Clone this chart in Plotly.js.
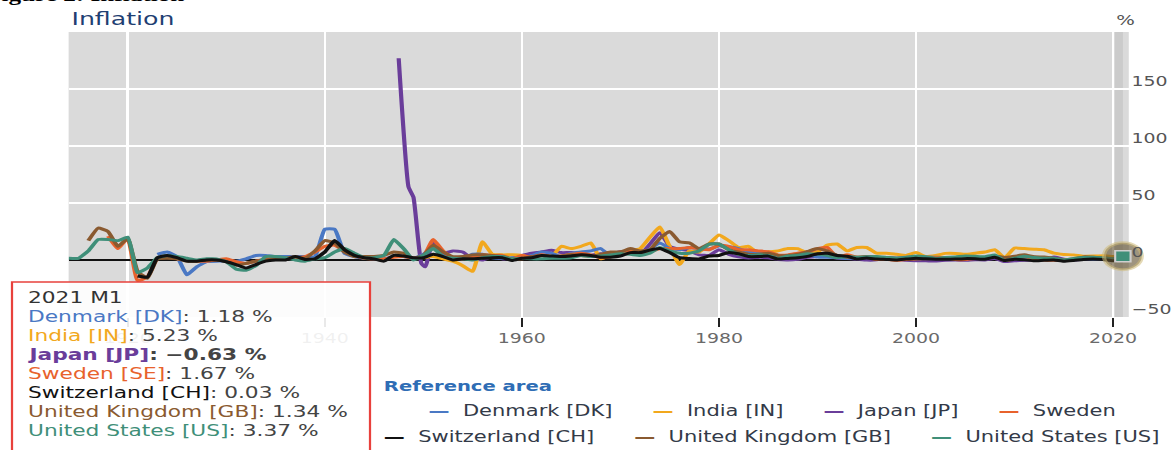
<!DOCTYPE html>
<html><head><meta charset="utf-8">
<script src="https://cdn.plot.ly/plotly-3.0.1.min.js"></script>
<style>
html,body{margin:0;padding:0;background:#fff;overflow:hidden;}
#wrap{width:1175px;height:450px;overflow:hidden;position:relative;}
#chart{width:839px;height:450px;transform:scale(1.400477,1);transform-origin:0 0;}
</style></head><body><div id="wrap"><div id="chart"></div></div>
<script>
// ---------------- data (annual inflation, %) ----------------
const seriesNames = ['Denmark [DK]','India [IN]','Japan [JP]','Sweden [SE]','Switzerland [CH]','United Kingdom [GB]','United States [US]'];
const legendLabels = ['Denmark [DK]','India [IN]','Japan [JP]','Sweden','Switzerland [CH]','United Kingdom [GB]','United States [US]'];
const seriesColors = ['#4a78c4','#f2a81d','#6a3d9a','#e8622c','#111111','#8a5a30','#3f8f79'];
const tooltipPeriod = '2021 M1';

const denmarkStart = 1923;
const denmarkValues = [5,7,3,-13,-6,-1.5,-1,-1,-1,1, 4,4,3,3,3,3,3,27,27,6, 3,1.5,1,1,3,3,1.5,5,12,5,
  1,1,5,5,2,1.5,2,1.5,4,7, 6,3,6,7,8,10,3.5,6.5,6,6.5, 9.5,15,10,9,11,10,9.6,12.3,11.7,10,
  6.9,6.3,4.7,3.6,4,4.6,4.8,2.6,2.4,2.1, 1.3,2,2.1,2.1,2.2,1.8,2.5,2.9,2.4,2.4,
  2.1,1.2,1.8,1.9,1.7,3.4,1.3,2.3,2.8,2.4, 0.8,0.6,0.5,0.3,1.1,0.8,0.8,0.4,1.18];

const indiaStart = 1950;
const indiaValues = [2,3,1,-1,-5,-10,16,5,4.5,4.5, 4,2,4,3,12,10,12,15,1,4,
  6,8,10,20,29,12,-4,8,7,14, 22,17,11,12,6,7,8,10,10,6, 7,13,14,8,11,11,6,6,5,4,
  6.5,3,4,5.8,5.8,5,6,7,9,2, 10.5,10,9.5,9,6,4.9,4.5,3.3,3.4,3.7, 3,5.23];

const japanEarlyYears = [1947.5,1948.5,1949,1949.8,1950.2];
const japanEarlyValues = [177,64,55,-3,-6];
const japanStart = 1951;
const japanValues = [17,6,8,7,1,0,3,1,1.5,4, 6,7,8.5,6.5,6.5,5,4,5.5,5,7.5,
  6.5,5,14,24,12,9.5,8,4.5,4,9, 5,2.7,1.8,2.3,2,0.5,0.1,0.7,2.3,3.1,
  3.3,1.6,1.3,0.7,-0.1,0.1,1.8,0.7,-0.3,-0.7, -0.7,-0.9,-0.3,0,-0.3,0.2,0.1,1.4,-1.4,-0.7,
  -0.3,0,0.4,2.7,0.8,-0.1,0.5,1,0.5,0, -0.63];

const swedenStart = 1918;
const swedenValues = [21,10,19,-18,-15,1.5,3,1,0,-1, -1,0,1,-1.5,-3,-1,1,1.5,1.5,2,
  3,7,12,13,8,4,1.5,1,1,2.5, 3,1.5,3,18,8,1.5,1,3,4.5,4, 4,1,4,2.5,4.5,3,3.5,5,6,4.5,
  2,2.7,7,7.5,6,7,10,10,10,11, 10,9,13,12,9,9,8,7.3,4.5,4.5, 6,7,10,11,2.5,4.5,2.5,2.5,0.5,0.7,
  -0.3,0.5,1,2.4,2.2,1.9,0.4,0.5,1.4,2.2, 3.4,-0.5,1.2,3,0.9,0,-0.2,0,1,1.8, 2,1.8,0.5,1.67];

const switzerlandStart = 1921;
const switzerlandValues = [-14,-15,2,4,2,-1,-1,0,0,-1.5, -4,-7,-4,-1,0,0,3,0.5,1,7,
  17,9,4,2,1,-1,4,3.5,2,2, 5,3,0,1,1,1.5,2,2,-0.5,1.5, 2,4,3.5,3,3.5,4.5,4,2.5,2.5,3.5,
  6.5,6.5,8.7,10,6.5,2,1.3,1,3.5,4, 6.5,5.5,3,3,3.4,0.8,1.4,1.9,3.2,5.4,
  5.9,4,3.3,0.9,1.8,0.8,0.5,0,0.8,1.6, 1,0.6,0.6,0.8,1.2,1.1,0.7,2.4,-0.5,0.7,
  0.2,-0.7,-0.2,0,-1.1,-0.4,0.5,0.9,0.4,-0.7, 0.03];

const ukStart = 1916;
const ukValues = [17,28,25,12,19,-10,-16,1,1.5,1, -1,-1,0,0,-1.5,-4.5,-3,-1,0,1,
  1.5,3,1.5,8,17,15,7,3,3,3, 4,7,6,1.5,4,13,7,3,3,4.5, 4.5,4,3,1,1,3,4,2,3.5,4.5,
  4,3,5,7,7,10,8,9,19,25, 16,15,10,14,14,9,7,5,5,6, 4,4,5,7.5,10,8,4,2.5,2.4,3,
  2.5,2,1.6,1.3,0.8,1.2,1.3,1.4,1.3,2, 2.3,2.3,3.6,2.2,3.3,4.5,2.8,2.6,1.5,0, 0.7,2.7,2.5,1.8,0.9,1.34];

const usStart = 1914;
const usValues = [1.5,1.5,8,18,18,17,20,-11,-7,2, 4,3,1.5,0,1,1,-1.5,-8,-9,-5,
  3,3,2,0,-1,1,2,7,10,6, 2,2,4,18,10,0,4,10,3,1.5, 1,0,2,3,3,1,1.5,1,1,1.5,
  1.5,2,4,3,3.5,4.5,5.5,5,4,6, 11,8,6,6,8,14,14,9,5,4, 4.5,4,1.5,3.5,4,5.5,5,4,2,3,
  2.5,2.8,3,2.3,1.6,2.2,3.4,2.8,1.6,2.3, 2.7,3.4,3.2,2.8,4.5,-0.5,1.6,3.2,2.1,1.5, 1.6,0.1,1.3,2.1,2.4,1.8,1.2,3.37];

const xTickVals = [1920,1940,1960,1980,2000,2020];
const yTickVals = [-50,0,50,100,150];

// ---------------- build ----------------
const annual = (start, vals) => vals.map((_, i) => start + i);
const seriesX = [
  annual(denmarkStart, denmarkValues),
  annual(indiaStart, indiaValues),
  japanEarlyYears.concat(annual(japanStart, japanValues)),
  annual(swedenStart, swedenValues),
  annual(switzerlandStart, switzerlandValues),
  annual(ukStart, ukValues),
  annual(usStart, usValues)
];
const seriesY = [denmarkValues, indiaValues, japanEarlyValues.concat(japanValues), swedenValues,
  switzerlandValues, ukValues, usValues];

const drawOrder = [2,1,0,3,5,6,4];
const traces = drawOrder.map(i => ({
  type:'scatter', mode:'lines', name: seriesNames[i],
  x: seriesX[i], y: seriesY[i],
  line:{color: seriesColors[i], width:3, shape:'spline', smoothing:0.4},
  showlegend:false, hoverinfo:'skip'
}));

// highlighted last point (United States)
const us = 6;
const lastX = seriesX[us][seriesX[us].length-1];
const lastY = seriesY[us][seriesY[us].length-1];
traces.push({type:'scatter', mode:'markers', x:[lastX], y:[lastY], cliponaxis:false, showlegend:false, hoverinfo:'skip',
  marker:{size:27, color:'rgba(98,82,48,0.62)', line:{color:'rgba(205,185,120,0.55)', width:3}}});
traces.push({type:'scatter', mode:'markers', x:[lastX], y:[lastY], cliponaxis:false, showlegend:false, hoverinfo:'skip',
  marker:{size:11, symbol:'square', color:seriesColors[us], line:{color:'#cfcfcf', width:1.5}}});

// ---------------- geometry helpers (reference px -> paper) ----------------
const S = 1175/839, W = 839, H = 450, ML = 49, MR = 33, MT = 32, MB = 133;
const PW = W-ML-MR, PH = H-MT-MB;
const fx = rx => (rx/S - ML)/PW;
const fy = ry => (H-MB-ry)/PH;
const FONT = 'DejaVu Sans, Verdana, sans-serif';

const fmt = v => (v < 0 ? '\u2212' : '') + Math.abs(v).toFixed(2) + ' %';

const annotations = [];
annotations.push({xref:'paper', yref:'paper', x:fx(187), y:fy(-5), xanchor:'right', yanchor:'middle', showarrow:false,
  text:'<b>Figure 2: Inflation</b>', font:{family:'Liberation Serif, serif', size:18, color:'#000'}});
annotations.push({xref:'paper', yref:'paper', x:fx(68), y:fy(18), xanchor:'left', yanchor:'middle', showarrow:false,
  text:'Inflation', font:{family:FONT, size:18, color:'#1f3f73'}});
annotations.push({xref:'paper', yref:'paper', x:fx(1125), y:fy(20), xanchor:'center', yanchor:'middle', showarrow:false,
  text:'%', font:{family:FONT, size:14, color:'#555'}});

// legend (centered rows)
annotations.push({xref:'paper', yref:'paper', x:fx(381), y:fy(386), xanchor:'left', yanchor:'middle', showarrow:false,
  text:'<b>Reference area</b>', font:{family:FONT, size:14, color:'#2f6db5'}});
const legendRows = [[0,1,2,3],[4,5,6]];
const legendRowY = [411, 437];
legendRows.forEach((row, r) => {
  const txt = row.map(i => `<span style="color:${seriesColors[i]}"><b>\u2014</b></span>\u00A0\u00A0${legendLabels[i]}`).join('\u00A0'.repeat(6));
  annotations.push({xref:'paper', yref:'paper', x:fx(772), y:fy(legendRowY[r]), xanchor:'center', yanchor:'middle', showarrow:false,
    text: txt, font:{family:FONT, size:15, color:'#333a48'}});
});

// tooltip
const tipLines = [`<span style="color:#333">${tooltipPeriod}</span>`].concat(seriesNames.map((n, i) => {
  const v = seriesY[i][seriesY[i].length-1];
  const s = `<span style="color:${seriesColors[i]}">${n}</span>: ${fmt(v)}`;
  return i === 2 ? `<b>${s}</b>` : s;
}));
tipLines.forEach((t, k) => {
  annotations.push({xref:'paper', yref:'paper', x:fx(25), y:fy(298 + 19*k), xanchor:'left', yanchor:'middle', showarrow:false,
    text:t, font:{family:FONT, size:15.5, color:'#444'}});
});

const shapes = [
  {type:'rect', xref:'x', yref:'paper', x0:2020.2, x1:2021.0, y0:0, y1:1, fillcolor:'#cbcbcb', line:{width:0}, layer:'below'},
  {type:'rect', xref:'paper', yref:'paper', x0:fx(12), x1:fx(370), y0:fy(470), y1:fy(282),
   fillcolor:'rgba(255,255,255,0.9)', line:{color:'#e8413c', width:1.6}, layer:'above'}
];

const layout = {
  width:W, height:H, margin:{l:ML, r:MR, t:MT, b:MB, pad:0},
  paper_bgcolor:'#ffffff', plot_bgcolor:'#dadada',
  showlegend:false,
  font:{family:FONT, color:'#555'},
  xaxis:{range:[1914, 2021.6], tickvals:xTickVals, ticks:'outside', ticklen:9, tickwidth:1.2, tickcolor:'#222',
    showgrid:true, gridcolor:'#ffffff', gridwidth:1.8, zeroline:false, showline:false,
    tickfont:{family:FONT, size:13.5, color:'#6a6a6a'}},
  yaxis:{range:[-50, 200], side:'right', tickvals:yTickVals, ticks:'', showgrid:true, gridcolor:'#ffffff', gridwidth:2,
    zeroline:true, zerolinecolor:'#111', zerolinewidth:1.2, showline:false, ticklabelshift:-8, ticklabelstandoff:1,
    tickfont:{family:FONT, size:13.5, color:'#555'}},
  annotations, shapes
};

Plotly.newPlot('chart', traces, layout, {staticPlot:true, displayModeBar:false});
</script></body></html>
